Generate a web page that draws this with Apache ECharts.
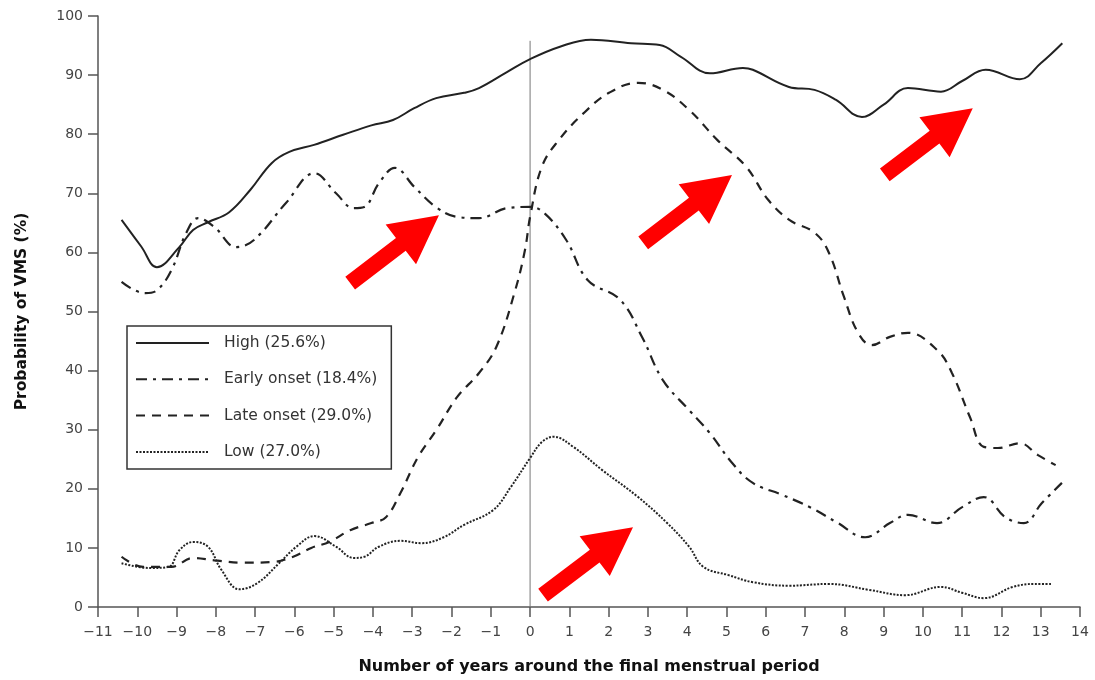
<!DOCTYPE html>
<html><head><meta charset="utf-8">
<script src="https://cdn.jsdelivr.net/npm/echarts@6/dist/echarts.min.js"></script>
<style>html,body{margin:0;padding:0;background:#fff}#c{width:1095px;height:680px}</style>
</head><body><div id="c"></div>
<script>
const xTicks = [-11,-10,-9,-8,-7,-6,-5,-4,-3,-2,-1,0,1,2,3,4,5,6,7,8,9,10,11,12,13,14];
const yTicks = [0,10,20,30,40,50,60,70,80,90,100];
const seriesNames = ['High (25.6%)','Early onset (18.4%)','Late onset (29.0%)','Low (27.0%)'];

const highData = [[-10.4,65.5],[-9.9,61],[-9.5,57.5],[-8.93,60.9],[-8.58,63.8],[-8.2,65.1],[-7.66,66.8],[-7.12,70.6],[-6.58,75.1],[-6.13,77],[-5.5,78.2],[-4.76,79.9],[-4.04,81.5],[-3.49,82.4],[-2.95,84.4],[-2.39,86.1],[-1.68,87],[-1.3,87.8],[-0.59,90.5],[0,92.7],[0.76,94.8],[1.55,96],[2.57,95.4],[3.3,95.1],[3.84,93.1],[4.58,90.3],[5.42,91.2],[5.67,90.9],[6.59,88],[7.24,87.5],[7.79,85.8],[8.45,82.9],[9.0,85],[9.62,87.8],[10.46,87.2],[11.0,89],[11.6,90.9],[12.47,89.3],[13.0,92],[13.55,95.4]];

const earlyData = [[-10.4,55],[-9.8,53.1],[-9.5,53.6],[-9.13,57],[-8.76,63.2],[-8.45,65.8],[-8.04,64.3],[-7.48,60.9],[-7.03,62.1],[-6.21,68.4],[-5.49,73.4],[-4.94,70],[-4.49,67.5],[-4.22,67.7],[-3.85,71.7],[-3.44,74.3],[-2.95,71.1],[-2.4,67.7],[-1.86,66],[-1.3,65.8],[-0.58,67.5],[0,67.7],[0.37,66.6],[0.92,62.1],[1.47,55.3],[2.29,52],[2.85,45.7],[3.38,38.4],[4.05,33.3],[4.58,29.4],[5.14,24.4],[5.67,21],[6.41,19],[7.15,16.8],[7.79,14.4],[8.53,11.8],[9.16,14.2],[9.62,15.6],[10.36,14.2],[11,16.9],[11.55,18.6],[12.1,15.2],[12.57,14.2],[13.03,17.6],[13.54,21]];

const lateData = [[-10.4,8.5],[-9.85,6.8],[-9.13,6.8],[-8.58,8.3],[-8.04,7.9],[-7.3,7.5],[-6.58,7.6],[-6.03,8.5],[-5.57,10],[-5.11,11],[-4.58,13],[-4.04,14.2],[-3.67,15.2],[-3.3,19.3],[-2.85,25.4],[-2.39,29.9],[-1.86,35.5],[-1.3,39.6],[-0.86,44],[-0.4,53.1],[-0.13,60.4],[0,66],[0.3,74.5],[0.73,79],[1.37,83.6],[2.01,87],[2.75,88.7],[3.38,87.5],[4.05,84.1],[4.77,79],[5.5,74.5],[6.06,68.9],[6.6,65.5],[7.25,63.3],[7.61,59.9],[7.99,52.5],[8.35,46.4],[8.7,44.3],[9.16,45.7],[9.62,46.4],[10.36,43.5],[10.74,39.6],[11.2,32.1],[11.55,27.1],[11.91,26.9],[12.47,27.7],[12.93,25.7],[13.38,24]];

const lowData = [[-10.4,7.4],[-9.67,6.6],[-9.2,6.8],[-8.93,9.6],[-8.58,11],[-8.2,10.2],[-7.86,6.3],[-7.4,3],[-6.95,4],[-6.39,7.4],[-5.95,10.2],[-5.49,12],[-4.94,10.2],[-4.49,8.3],[-4.22,8.5],[-3.85,10.2],[-3.3,11.2],[-2.76,10.8],[-2.2,11.8],[-1.68,13.9],[-0.94,16.4],[-0.49,20.3],[0,25.2],[0.3,27.9],[0.6,28.8],[1.1,27.1],[1.83,23.2],[2.75,18.6],[3.49,14.2],[4.05,10.2],[4.41,6.8],[5.05,5.4],[5.67,4.2],[6.6,3.6],[7.61,3.9],[8.63,2.9],[9.55,2],[10.46,3.4],[11,2.4],[11.55,1.5],[12.29,3.4],[12.84,3.9],[13.3,3.9]];

// reference vertical line at the final menstrual period: x, y from, y to
const refLine = [0, 0, 95.8];
// annotation arrows: [tailX, tailY, tipX, tipY] in data units
const arrows = [[-4.58,54.8,-2.32,66.3],[2.88,61.6,5.14,73.1],[9.03,73.1,11.27,84.4],[0.33,2,2.62,13.5]];

const chart = echarts.init(document.getElementById('c'));
const font = 'DejaVu Sans, Verdana, sans-serif';
const ink = '#222';
const fmt = v => String(v).replace('-', '\u2212');

const lineSeries = (name, data, type, width) => ({
  name, type:'line', data, smooth:0.4, symbol:'none', silent:true,
  lineStyle:{color:ink, width, type}, itemStyle:{color:ink}
});

const series = [
  {name:'ref', type:'line', data:[[refLine[0], refLine[1]],[refLine[0], refLine[2]]], symbol:'none', silent:true,
   lineStyle:{color:'#777', width:1}, z:1},
  lineSeries(seriesNames[0], highData, 'solid', 2),
  lineSeries(seriesNames[1], earlyData, [11,6,3,6], 2.2),
  lineSeries(seriesNames[2], lateData, [9,7], 2.2),
  lineSeries(seriesNames[3], lowData, [2,1.5], 2)
];

chart.setOption({
  animation:false,
  backgroundColor:'#fff',
  grid:{left:98, right:15, top:16, bottom:73},
  legend:{
    orient:'vertical', left:127, top:326,
    data:seriesNames,
    itemWidth:73, itemHeight:18, itemGap:18.3,
    padding:[8,14,8,8],
    borderColor:'#333', borderWidth:1.5,
    itemStyle:{opacity:0},
    textStyle:{fontFamily:font, fontSize:15.5, lineHeight:18, color:'#333', padding:[0,0,0,10]},
    selectedMode:false
  },
  xAxis:{
    type:'value', min:-11, max:14, interval:1,
    name:'Number of years around the final menstrual period',
    nameLocation:'middle', nameGap:52,
    nameTextStyle:{fontFamily:font, fontSize:16, fontWeight:'bold', color:'#111'},
    axisLine:{show:true, onZero:false, lineStyle:{color:'#555', width:1.5}},
    axisTick:{show:true, inside:false, length:10, lineStyle:{color:'#555', width:1.5}},
    axisLabel:{formatter:fmt, fontFamily:font, fontSize:14, color:'#444', margin:18},
    splitLine:{show:false}
  },
  yAxis:{
    type:'value', min:0, max:100, interval:10,
    name:'Probability of VMS (%)',
    nameLocation:'middle', nameGap:68,
    nameTextStyle:{fontFamily:font, fontSize:15.5, fontWeight:'bold', color:'#111'},
    axisLine:{show:true, onZero:false, lineStyle:{color:'#555', width:1.5}},
    axisTick:{show:true, inside:false, length:10, lineStyle:{color:'#555', width:1.5}},
    axisLabel:{fontFamily:font, fontSize:14, color:'#444', margin:15},
    splitLine:{show:false}
  },
  series
});

function arrowPoly(t, p){
  const dx=p[0]-t[0], dy=p[1]-t[1], L=Math.hypot(dx,dy);
  const ux=dx/L, uy=dy/L, nx=-uy, ny=ux;
  const hw=8, hh=25, hl=48;
  const bx=p[0]-ux*hl, by=p[1]-uy*hl;
  return [
    [t[0]+nx*hw, t[1]+ny*hw],[bx+nx*hw, by+ny*hw],[bx+nx*hh, by+ny*hh],
    [p[0],p[1]],
    [bx-nx*hh, by-ny*hh],[bx-nx*hw, by-ny*hw],[t[0]-nx*hw, t[1]-ny*hw]
  ];
}
const graphics = arrows.map(a => {
  const t = chart.convertToPixel({gridIndex:0}, [a[0], a[1]]);
  const p = chart.convertToPixel({gridIndex:0}, [a[2], a[3]]);
  return {type:'polygon', shape:{points:arrowPoly(t,p)}, style:{fill:'#ff0000'}, z:100, silent:true};
});
chart.setOption({graphic:graphics});
</script></body></html>
